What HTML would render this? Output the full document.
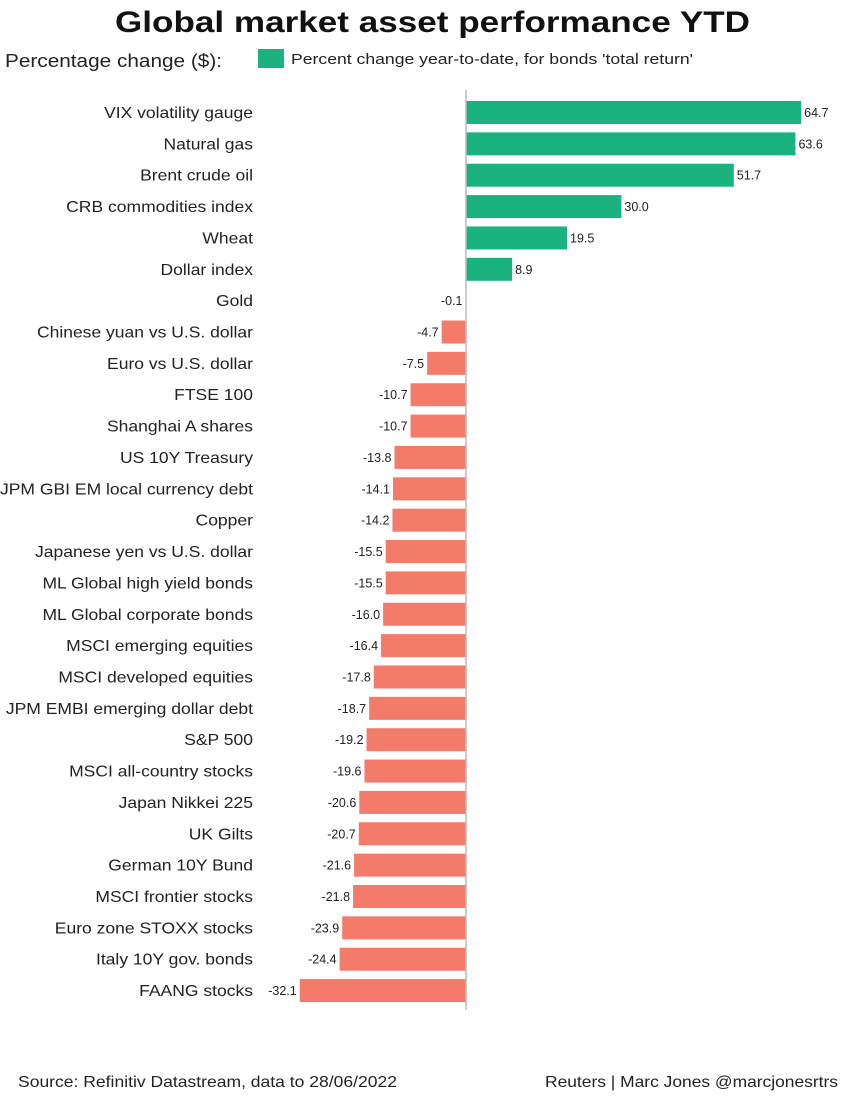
<!DOCTYPE html>
<html><head><meta charset="utf-8"><style>
body{margin:0;background:#fff;width:854px;height:1092px;overflow:hidden;font-family:"Liberation Sans",Arial,sans-serif}
</style></head><body>
<svg width="854" height="1092">
<text x="115" y="32" font-size="30" font-weight="bold" fill="#111" textLength="635" lengthAdjust="spacingAndGlyphs">Global market asset performance YTD</text>
<text x="5" y="67" font-size="18" fill="#222" textLength="217" lengthAdjust="spacingAndGlyphs">Percentage change ($):</text>
<rect x="258" y="49" width="26" height="19" fill="#1ab27f"/>
<text x="291" y="64" font-size="15" fill="#222" textLength="402" lengthAdjust="spacingAndGlyphs">Percent change year-to-date, for bonds 'total return'</text>
<g id="bars"></g>
<line x1="466" y1="90" x2="466" y2="1010" stroke="#bbb" stroke-width="1.5"/>
<text x="18" y="1087" font-size="16" fill="#222" textLength="379" lengthAdjust="spacingAndGlyphs">Source: Refinitiv Datastream, data to 28/06/2022</text>
<text x="545" y="1087" font-size="16" fill="#222" textLength="293" lengthAdjust="spacingAndGlyphs">Reuters | Marc Jones @marcjonesrtrs</text>
</svg>
<script>
const categories=["VIX volatility gauge","Natural gas","Brent crude oil","CRB commodities index","Wheat","Dollar index","Gold","Chinese yuan vs U.S. dollar","Euro vs U.S. dollar","FTSE 100","Shanghai A shares","US 10Y Treasury","JPM GBI EM local currency debt","Copper","Japanese yen vs U.S. dollar","ML Global high yield bonds","ML Global corporate bonds","MSCI emerging equities","MSCI developed equities","JPM EMBI emerging dollar debt","S&P 500","MSCI all-country stocks","Japan Nikkei 225","UK Gilts","German 10Y Bund","MSCI frontier stocks","Euro zone STOXX stocks","Italy 10Y gov. bonds","FAANG stocks"];
const values=[64.7,63.6,51.7,30.0,19.5,8.9,-0.1,-4.7,-7.5,-10.7,-10.7,-13.8,-14.1,-14.2,-15.5,-15.5,-16.0,-16.4,-17.8,-18.7,-19.2,-19.6,-20.6,-20.7,-21.6,-21.8,-23.9,-24.4,-32.1];
const NS="http://www.w3.org/2000/svg";
const x0=466,k=5.18,top0=101,step=31.36,bh=23;
const xs=v=>x0+v*k, ys=i=>top0+i*step;
const g=document.getElementById('bars');
categories.forEach((c,i)=>{
 const v=values[i],y=ys(i),x=xs(v);
 const r=document.createElementNS(NS,'rect');
 r.setAttribute('x',Math.min(x,x0));r.setAttribute('y',y);
 r.setAttribute('width',Math.max(Math.abs(x-x0),0.8));r.setAttribute('height',bh);
 r.setAttribute('fill',v>=0?'#1ab27f':'#f47a6a');
 
 
 g.appendChild(r);
 const t=document.createElementNS(NS,'text');
 t.setAttribute('x',253);t.setAttribute('y',y+17);t.setAttribute('text-anchor','end');
 t.setAttribute('font-size','16');t.setAttribute('fill','#222');t.textContent=c;
 t.setAttribute('transform','translate(253,0) scale(1.095,1) translate(-253,0)');
 
 
 g.appendChild(t);
 const vl=document.createElementNS(NS,'text');
 vl.setAttribute('x',v>=0?x+3:x-3);vl.setAttribute('y',y+16);
 vl.setAttribute('text-anchor',v>=0?'start':'end');
 vl.setAttribute('font-size','12.5');vl.setAttribute('fill','#222');vl.textContent=v.toFixed(1);
 
 
 g.appendChild(vl);
});
</script>
</body></html>
